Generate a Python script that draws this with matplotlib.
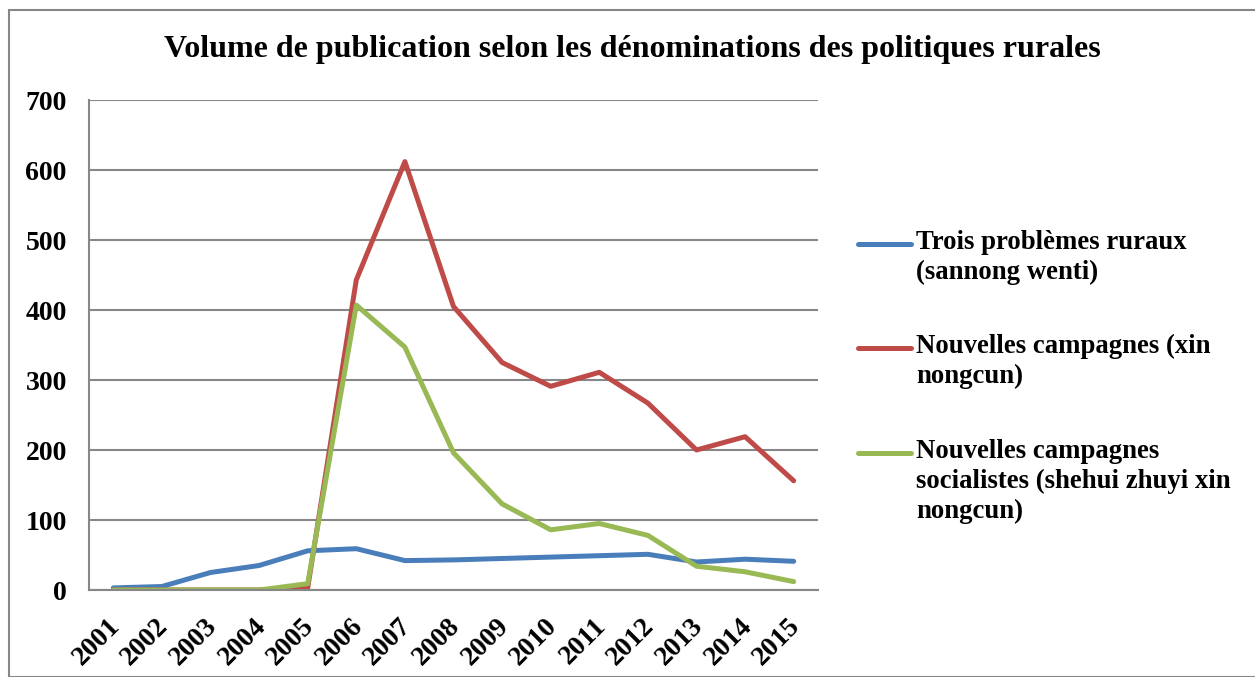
import numpy as np
import matplotlib
matplotlib.use("Agg")
from matplotlib import pyplot as plt
from matplotlib.lines import Line2D
from matplotlib.patches import Rectangle
from matplotlib.transforms import ScaledTranslation

years = [str(y) for y in range(2001, 2016)]
sannong = [3, 5, 25, 35, 56, 59, 42, 43, 45, 47, 49, 51, 40, 44, 41]
xin_nongcun = [0, 0, 0, 0, 3, 443, 612, 405, 325, 291, 311, 267, 200, 219, 156]
shehui = [0, 0, 0, 0, 9, 407, 347, 196, 123, 86, 95, 78, 34, 26, 12]

labels = ["Trois problèmes ruraux\n(sannong wenti)",
          "Nouvelles campagnes (xin\nnongcun)",
          "Nouvelles campagnes\nsocialistes (shehui zhuyi xin\nnongcun)"]
colors = ["#4A7EBB", "#BE4B48", "#98B954"]

plt.rcParams['font.family'] = ['Liberation Serif', 'DejaVu Serif']
plt.rcParams['font.weight'] = 'bold'

fig = plt.figure(figsize=(12.55, 6.77), dpi=100)
ax = fig.add_axes([89 / 1255, 1 - 590 / 677, 729 / 1255, 490 / 677])

x = np.arange(1, len(years) + 1)
for vals, c in zip([sannong, xin_nongcun, shehui], colors):
    ax.plot(x, vals, color=c, lw=3.6, solid_capstyle='round', solid_joinstyle='round')

ax.set_xlim(0.5, len(years) + 0.5)
ax.set_ylim(0, 700)
ax.set_yticks(range(0, 701, 100))
ax.set_xticks(x)
ax.set_xticklabels(years, rotation=45, ha='right', rotation_mode='anchor')
ax.tick_params(axis='both', length=0, labelsize=20)
ax.tick_params(axis='x', pad=17)
ax.tick_params(axis='y', pad=16)
shift = ScaledTranslation(-6 / 100, 0, fig.dpi_scale_trans)
for lab in ax.get_xticklabels():
    lab.set_transform(lab.get_transform() + shift)
for lab in ax.get_xticklabels() + ax.get_yticklabels():
    lab.set_fontweight('bold')
ax.grid(axis='y', color='#878787', lw=1.5)
ax.set_axisbelow(True)
for s in ['top', 'right']:
    ax.spines[s].set_visible(False)
for s in ['left', 'bottom']:
    ax.spines[s].set_color('#878787')
    ax.spines[s].set_linewidth(1.5)

fig.text(632 / 1255, 1 - 49 / 677, "Volume de publication selon les dénominations des politiques rurales",
         ha='center', va='center', fontsize=23, fontweight='bold')

# legend drawn by hand so the line sits next to the first text line
ys = [244, 348, 453]
for lab, c, yy in zip(labels, colors, ys):
    fy = 1 - yy / 677
    fig.add_artist(Line2D([858 / 1255, 911 / 1255], [fy, fy], color=c, lw=3.6,
                          solid_capstyle='round'))
    fig.text(916 / 1255, fy + 14 / 677, lab, ha='left', va='top', fontsize=19.3,
             fontweight='bold', linespacing=1.25)

fig.add_artist(Rectangle((9 / 1255, 0), 1250 / 1255, 1 - 10 / 677, transform=fig.transFigure,
                         fill=False, edgecolor='#878787', lw=1.5))

fig.savefig("out.png", dpi=100)
